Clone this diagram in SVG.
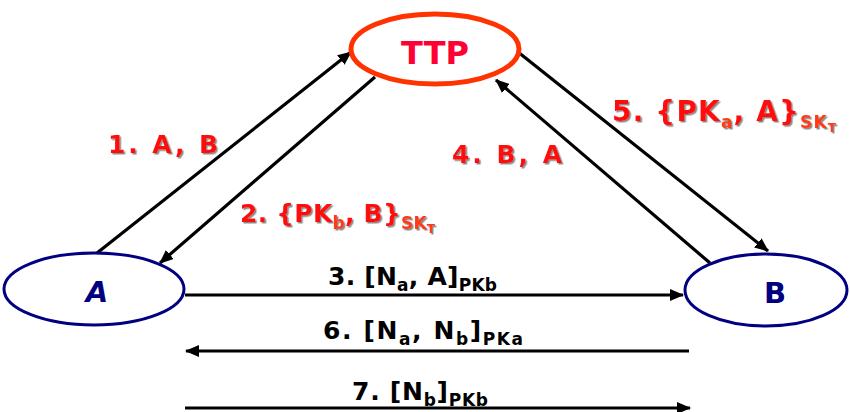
<svg xmlns="http://www.w3.org/2000/svg" width="850" height="412" viewBox="0 0 850 412">
<style>
.lbl{font-family:"DejaVu Sans","Liberation Sans",sans-serif;font-weight:bold;font-size:25px}
.red{fill:#ff1111;filter:url(#sh)}
.blk{fill:#000}
.sub{font-size:17px}
.sub2{font-size:12px}
.or{fill:#ff3b14}
.edge{stroke:#000;stroke-width:3.2;fill:none;marker-end:url(#ah)}
</style>
<defs>
<marker id="ah" markerUnits="userSpaceOnUse" markerWidth="14" markerHeight="12" refX="13" refY="6" orient="auto">
<path d="M0,0 L14,6 L0,12 z" fill="#000"/>
</marker>
<filter id="sh" x="-10%" y="-20%" width="130%" height="160%">
<feDropShadow dx="1.5" dy="1.5" stdDeviation="0.4" flood-color="#8a8a8a"/>
</filter>
</defs>
<rect width="850" height="412" fill="#fff"/>
<g id="connectors">
<line class="edge" x1="97" y1="253" x2="351" y2="52"/>
<line class="edge" x1="375" y1="77" x2="160" y2="263"/>
<line class="edge" x1="710" y1="263" x2="496" y2="80"/>
<line class="edge" x1="518" y1="52" x2="768" y2="251"/>
<line class="edge" x1="185" y1="295" x2="683" y2="295"/>
<line class="edge" x1="689" y1="351" x2="186" y2="351"/>
<line class="edge" x1="185" y1="408" x2="690" y2="408"/>
</g>
<g id="TTP">
<ellipse cx="435" cy="49" rx="84" ry="35" fill="#fff" stroke="#ff3300" stroke-width="5"/>
<text x="435" y="64" text-anchor="middle" font-family="DejaVu Sans, sans-serif" font-weight="bold" font-size="32" fill="#ff0033">TTP</text>
</g>
<g id="A">
<ellipse cx="94" cy="289" rx="90" ry="36" fill="#fff" stroke="#000080" stroke-width="3"/>
<text x="97" y="302" text-anchor="middle" font-family="DejaVu Sans, sans-serif" font-weight="bold" font-style="italic" font-size="29" fill="#000080">A</text>
</g>
<g id="B">
<ellipse cx="766" cy="290" rx="81" ry="36" fill="#fff" stroke="#000080" stroke-width="3"/>
<text x="775" y="303" text-anchor="middle" font-family="DejaVu Sans, sans-serif" font-weight="bold" font-size="29" fill="#000080">B</text>
</g>
<g id="labels">
<text class="lbl red" x="108" y="153" font-size="26" textLength="110">1. A, B</text>
<text class="lbl red" x="240" y="222" textLength="195">2. {PK<tspan class="sub or" dy="7">b</tspan><tspan dy="-7">, B}</tspan><tspan class="sub or" dy="7">SK</tspan><tspan class="sub2 or" dy="4">T</tspan></text>
<text class="lbl red" x="452" y="163" textLength="110">4. B, A</text>
<text class="lbl red" x="612" y="121" style="font-size:28px" textLength="224">5. {PK<tspan class="sub or" dy="7">a</tspan><tspan dy="-7">, A}</tspan><tspan class="sub or" dy="7">SK</tspan><tspan class="sub2 or" dy="4">T</tspan></text>
<text class="lbl blk" x="328" y="285" textLength="169">3. [N<tspan class="sub" dy="6">a</tspan><tspan dy="-6">, A]</tspan><tspan class="sub" dy="6">PKb</tspan></text>
<text class="lbl blk" x="323" y="339" textLength="200">6. [N<tspan class="sub" dy="6">a</tspan><tspan dy="-6">, N</tspan><tspan class="sub" dy="6">b</tspan><tspan dy="-6">]</tspan><tspan class="sub" dy="6">PKa</tspan></text>
<text class="lbl blk" x="352" y="400" textLength="136">7. [N<tspan class="sub" dy="6">b</tspan><tspan dy="-6">]</tspan><tspan class="sub" dy="6">PKb</tspan></text>
</g>
</svg>
